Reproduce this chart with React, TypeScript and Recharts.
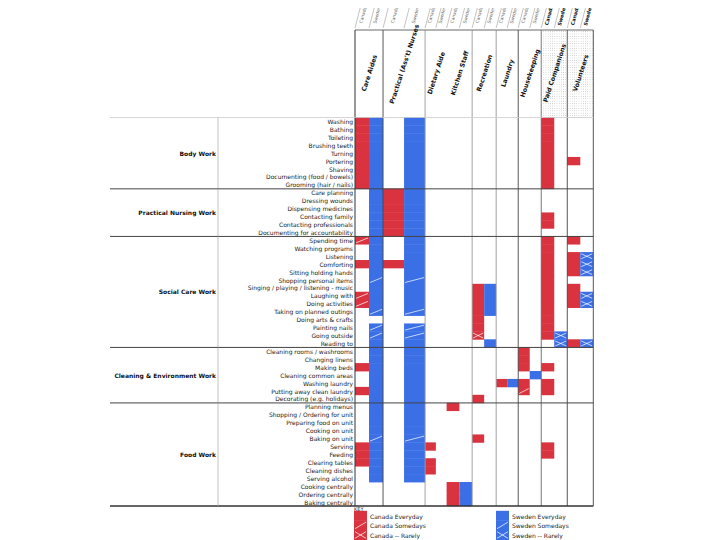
import React from "react";
import { ComposedChart, XAxis, YAxis, ReferenceArea, ReferenceLine } from "recharts";

const groupNames = [
  "Body Work",
  "Practical Nursing Work",
  "Social Care Work",
  "Cleaning & Environment Work",
  "Food Work"
];

const bodyTasks = [
  "Washing", "Bathing", "Toileting", "Brushing teeth", "Turning", "Portering",
  "Shaving", "Documenting (food / bowels)", "Grooming (hair / nails)"
];
const nursingTasks = [
  "Care planning", "Dressing wounds", "Dispensing medicines", "Contacting family",
  "Contacting professionals", "Documenting for accountability"
];
const socialTasks = [
  "Spending time", "Watching programs", "Listening", "Comforting", "Sitting holding hands",
  "Shopping personal items", "Singing / playing / listening - music", "Laughing with",
  "Doing activities", "Taking on planned outings", "Doing arts & crafts", "Painting nails",
  "Going outside", "Reading to"
];
const cleaningTasks = [
  "Cleaning rooms / washrooms", "Changing linens", "Making beds", "Cleaning common areas",
  "Washing laundry", "Putting away clean laundry", "Decorating (e.g. holidays)"
];
const foodTasks = [
  "Planning menus", "Shopping / Ordering for unit", "Preparing food on unit", "Cooking on unit",
  "Baking on unit", "Serving", "Feeding", "Clearing tables", "Cleaning dishes", "Serving alcohol",
  "Cooking centrally", "Ordering centrally", "Baking centrally"
];
const groupTasks = [bodyTasks, nursingTasks, socialTasks, cleaningTasks, foodTasks];

const roles = [
  "Care Aides", "Practical (Ass't) Nurses", "Dietary Aide", "Kitchen Staff", "Recreation",
  "Laundry", "Housekeeping", "Paid Companions", "Volunteers"
];
const countries = ["Canada", "Sweden"];

// one string per role, one char per task, "|" between groups
// E = everyday, S = somedays, R = rarely, . = not done
const canadaLevels = [
  "EEEEEEEEE|......|S..E...SS.....|..E..E.|.....EEE.....",
  ".........|EEEEEE|...E..........|.......|.............",
  ".........|......|..............|.......|.....E.EE....",
  ".........|......|..............|.......|E.........EEE",
  ".........|......|......EEEEEER.|......E|....E........",
  ".........|......|..............|....E..|.............",
  ".........|......|..............|EEE.ES.|.............",
  "EEEEEEEEE|...EE.|EEEEEEEEEEEEE.|..E.EE.|.....EE......",
  ".....E...|......|E.EEE.EEE....E|.......|............."
];
const swedenLevels = [
  "EEEEEEEEE|EEEEEE|EEEEESEEES.SSE|EEEEEEE|EEEESEEEEE...",
  "EEEEEEEEE|EEEEEE|EEEEESEEES.SSE|EEEEEEE|EEEESEEEEE...",
  ".........|......|..............|.......|.............",
  ".........|......|..............|.......|..........EEE",
  ".........|......|......EEEE...E|.......|.............",
  ".........|......|..............|....E..|.............",
  ".........|......|..............|...E...|.............",
  ".........|......|............RR|.......|.............",
  ".........|......|..RRR..RR....R|.......|............."
];

const keyLabels = ["Everyday", "Somedays", "-- Rarely"];

// ---- layout ----
const W = 720;
const H = 540;
const PLOT_LEFT = 355;
const PLOT_RIGHT = 593.3;
const PLOT_TOP = 117.5;
const PLOT_BOTTOM = 506;
const HEADER_TOP = 30;
const LEFT_EDGE = 110;
const DIVIDER_X = 218;
const roleWidths = [28, 42, 21.5, 25.5, 24, 22, 23, 26, 26];
const edgeAfter = ["#444", "#999", null, "#999", "#999", "#444", "#666", "#444", "#444"];
const countryColors = ["#da3340", "#3b6fe6"];
const FONT = "'DejaVu Sans', Verdana, sans-serif";

const roleStart: number[] = [];
roleWidths.forEach((w, i) => roleStart.push(i === 0 ? 0 : roleStart[i - 1] + roleWidths[i - 1]));
const TOTAL = roleWidths.reduce((s, w) => s + w, 0);
const UNIT = (PLOT_RIGHT - PLOT_LEFT) / TOTAL;
const roleCenters = roleStart.map((s, i) => s + roleWidths[i] / 2);
const subCenters: number[] = [];
roles.forEach((r, i) => {
  subCenters.push(roleStart[i] + roleWidths[i] / 4);
  subCenters.push(roleStart[i] + (roleWidths[i] * 3) / 4);
});

const tasks = groupTasks.flat();
const chartData = tasks.map(task => ({ task }));
const ROW_H = (PLOT_BOTTOM - PLOT_TOP) / tasks.length;
const groupFirst = groupTasks.map((g, i) =>
  groupTasks.slice(0, i).reduce((s, t) => s + t.length, 0)
);

type CellDef = { key: string; x1: number; x2: number; task: string; code: string; color: string };
const cells: CellDef[] = [];
roles.forEach((role, r) => {
  [canadaLevels, swedenLevels].forEach((levels, c) => {
    const codes = levels[r].replace(/\|/g, "").split("");
    const half = roleWidths[r] / 2;
    const x1 = roleStart[r] + c * half;
    codes.forEach((code, i) => {
      if (code !== ".") {
        cells.push({ key: `${r}-${c}-${i}`, x1, x2: x1 + half, task: tasks[i], code, color: countryColors[c] });
      }
    });
  });
});

const CellShape = (props: any) => {
  const { x, y, width, height, code, color } = props;
  return (
    <g>
      {/* small overlap so stacked cells read as one block */}
      <rect x={x} y={y - 0.2} width={width} height={height + 0.4} fill={color} />
      {(code === "S" || code === "R") && (
        <line x1={x + 1} y1={y + height - 1.5} x2={x + width - 1} y2={y + 1.5} stroke="#fff" strokeWidth={0.7} />
      )}
      {code === "R" && (
        <line x1={x + 1} y1={y + 1.5} x2={x + width - 1} y2={y + height - 1.5} stroke="#fff" strokeWidth={0.7} />
      )}
    </g>
  );
};

const TaskTick = (props: any) => {
  const { y, payload } = props;
  const i = tasks.indexOf(payload.value);
  const g = groupFirst.indexOf(i);
  const top = y - ROW_H / 2;
  const parts: any[] = [];
  if (g >= 0) {
    parts.push(
      <line key="h" x1={LEFT_EDGE} y1={top} x2={PLOT_RIGHT} y2={top}
        stroke={g === 0 ? "#ccc" : "#444"} strokeWidth={g === 0 ? 0.8 : 1} />
    );
  }
  if (i === tasks.length - 1) {
    parts.push(
      <line key="b" x1={LEFT_EDGE} y1={top + ROW_H} x2={PLOT_RIGHT} y2={top + ROW_H} stroke="#333" strokeWidth={1.3} />
    );
  }
  groupTasks.forEach((gt, gi) => {
    const mid = groupFirst[gi] + Math.floor((gt.length - 1) / 2);
    if (mid === i) {
      parts.push(
        <text key="g" x={DIVIDER_X - 2} y={y + (gt.length % 2 === 0 ? ROW_H / 2 : 0)} textAnchor="end"
          dominantBaseline="central" fontSize={6} fontWeight="bold" fill="#111" fontFamily={FONT}>
          {groupNames[gi]}
        </text>
      );
    }
  });
  return (
    <g>
      {parts}
      <line x1={DIVIDER_X} y1={top} x2={DIVIDER_X} y2={top + ROW_H} stroke="#aaa" strokeWidth={0.7} />
      <text x={PLOT_LEFT - 2} y={y} textAnchor="end" dominantBaseline="central" fontSize={6}
        fill="#222" fontFamily={FONT}>
        {payload.value}
      </text>
    </g>
  );
};

const RoleTick = (props: any) => {
  const { x, index } = props;
  const r = index;
  const w = roleWidths[r] * UNIT;
  const left = x - w / 2;
  const right = x + w / 2;
  const labelY = r === 1 ? 64 : 73;
  return (
    <g>
      {r === 0 && (
        <defs>
          <pattern id="stipple" width={2.2} height={2.4} patternUnits="userSpaceOnUse">
            <rect width={0.7} height={0.7} fill="#b4b4b4" />
          </pattern>
        </defs>
      )}
      {r >= 7 && (
        <rect x={left} y={HEADER_TOP} width={w} height={PLOT_TOP - HEADER_TOP} fill="url(#stipple)" />
      )}
      <line x1={left} y1={HEADER_TOP} x2={right} y2={HEADER_TOP} stroke="#444" strokeWidth={0.8} />
      {r === 0 && <line x1={left} y1={HEADER_TOP} x2={left} y2={PLOT_TOP} stroke="#333" strokeWidth={1} />}
      {edgeAfter[r] && (
        <line x1={right} y1={HEADER_TOP} x2={right} y2={PLOT_TOP} stroke={edgeAfter[r] as string} strokeWidth={0.9} />
      )}
      <text transform={`translate(${x},${labelY}) rotate(-72)`} textAnchor="middle" dominantBaseline="central"
        fontSize={6.3} fontWeight="bold" fill="#111" fontFamily={FONT}>
        {roles[r]}
      </text>
    </g>
  );
};

const CountryTick = (props: any) => {
  const { x, index } = props;
  const r = Math.floor(index / 2);
  const c = index % 2;
  const w = (roleWidths[r] / 2) * UNIT;
  const left = x - w / 2;
  const strong = r >= 7;
  return (
    <g>
      <line x1={left} y1={28} x2={left + 7} y2={1} stroke="#888" strokeWidth={0.5} />
      <text transform={`translate(${x + 1},${15}) rotate(-75)`} textAnchor="middle" dominantBaseline="central"
        fontSize={strong ? 4.9 : 4.4} fontWeight={strong ? "bold" : "normal"} fill={strong ? "#111" : "#666"}
        fontFamily={FONT}>
        {countries[c]}
      </text>
    </g>
  );
};

const KeyBox = () => (
  <svg width={260} height={36} style={{ position: "absolute", left: PLOT_LEFT - 10, top: PLOT_BOTTOM - 1 }}>
    <text x={9} y={4} fontSize={5} fill="#333" dominantBaseline="central" fontFamily={FONT}>KEY</text>
    {countries.map((country, c) => {
      const bx = c === 0 ? 9 : 151;
      return (
        <g key={country}>
          {keyLabels.map((lab, k) => {
            const by = 6 + k * 9.6;
            return (
              <g key={lab}>
                <CellShape x={bx} y={by} width={13} height={9.6} code={["E", "S", "R"][k]} color={countryColors[c]} />
                <text x={bx + 16} y={by + 5} fontSize={6} fill="#222" dominantBaseline="central" fontFamily={FONT}>
                  {`${country} ${lab}`}
                </text>
              </g>
            );
          })}
        </g>
      );
    })}
  </svg>
);

export default function App() {
  return (
    <div style={{ position: "relative", margin: "-8px 0 0 -8px", width: W, height: H, background: "#fff", fontFamily: FONT }}>
      <ComposedChart
        width={W}
        height={H}
        data={chartData}
        layout="vertical"
        margin={{ top: 0, right: W - PLOT_RIGHT, bottom: H - PLOT_BOTTOM, left: LEFT_EDGE }}
      >
        <XAxis xAxisId="roles" orientation="top" type="number" domain={[0, TOTAL]} allowDataOverflow
          ticks={roleCenters} interval={0} height={PLOT_TOP - HEADER_TOP} axisLine={false} tickLine={false}
          tick={<RoleTick />} />
        <XAxis xAxisId="countries" orientation="top" type="number" domain={[0, TOTAL]} allowDataOverflow
          ticks={subCenters} interval={0} height={HEADER_TOP} axisLine={false} tickLine={false}
          tick={<CountryTick />} />
        <YAxis type="category" scale="band" dataKey="task" width={PLOT_LEFT - LEFT_EDGE} interval={0}
          tickLine={false} axisLine={{ stroke: "#333", strokeWidth: 1 }} tick={<TaskTick />} />
        {roleStart.map((s, r) =>
          edgeAfter[r] ? (
            <ReferenceLine key={`edge-${r}`} xAxisId="roles" x={s + roleWidths[r]} stroke={edgeAfter[r] as string}
              strokeWidth={0.9} ifOverflow="visible" />
          ) : null
        )}
        {cells.map(cell => (
          <ReferenceArea key={cell.key} xAxisId="roles" x1={cell.x1} x2={cell.x2} y1={cell.task} y2={cell.task}
            ifOverflow="visible"
            shape={(p: any) => <CellShape {...p} code={cell.code} color={cell.color} />} />
        ))}
      </ComposedChart>
      <KeyBox />
    </div>
  );
}
